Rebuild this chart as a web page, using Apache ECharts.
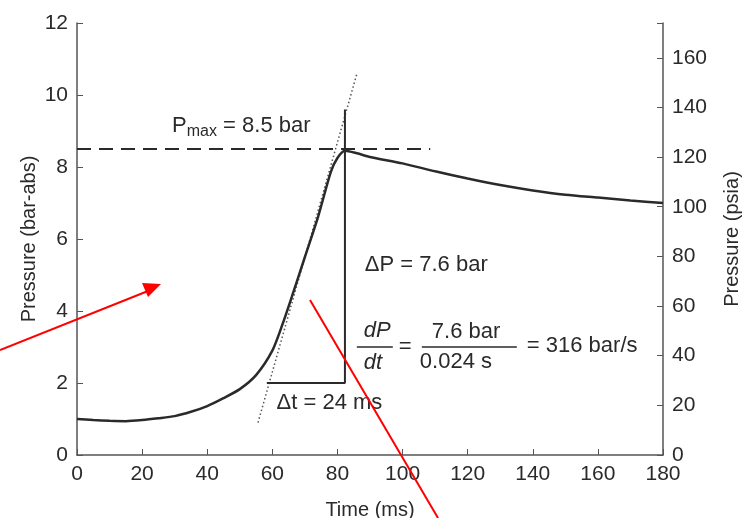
<!doctype html>
<html>
<head>
<meta charset="UTF-8">
<title>Pressure vs time</title>
<script src="https://cdn.jsdelivr.net/npm/echarts@6/dist/echarts.min.js"></script>
<style>
  html, body { margin: 0; padding: 0; background: #fff; }
  #main { width: 745px; height: 518px; }
</style>
</head>
<body>
<div id="main"></div>
<script>
// pressure curve (time ms, pressure bar-abs)
var times     = [0, 5, 10, 15, 20, 25, 30, 35, 40, 45, 50, 55, 60, 63, 66, 70, 74, 78, 80, 82.3, 86, 90, 100, 110, 120, 130, 140, 150, 160, 170, 180];
var pressures = [1.0, 0.97, 0.95, 0.94, 0.97, 1.02, 1.08, 1.2, 1.36, 1.58, 1.83, 2.22, 2.9, 3.6, 4.4, 5.5, 6.6, 7.87, 8.25, 8.45, 8.38, 8.28, 8.1, 7.88, 7.68, 7.5, 7.35, 7.23, 7.15, 7.07, 7.0];

// construction lines
var pmaxLine  = [[0, 8.5], [108.5, 8.5]];
var tangent   = [[55.6, 0.9], [86, 10.6]];
var deltaBox  = [[58.3, 2], [82.3, 2], [82.3, 9.6]];

var xTicks = { min: 0, max: 180, interval: 20 };
var barTicks = { min: 0, max: 12, interval: 2 };
var psiTicks = { min: 0, max: 174, interval: 20 };

var curve = times.map(function (t, i) { return [t, pressures[i]]; });

var ink = '#2a2a2a';
var font = 'Liberation Sans, Arial, sans-serif';
var fs = 21;
var afs = 22;

var myChart = echarts.init(document.getElementById('main'));

var option = {
    animation: false,
    backgroundColor: '#fff',
    textStyle: { fontFamily: font },
    grid: { left: 77, right: 82, top: 23, bottom: 63, containLabel: false, outerBoundsMode: 'none' },
    xAxis: {
        type: 'value',
        min: xTicks.min, max: xTicks.max, interval: xTicks.interval,
        name: 'Time (ms)',
        nameLocation: 'middle',
        nameGap: 45,
        nameMoveOverlap: false,
        nameTextStyle: { color: ink, fontSize: 20, fontFamily: font },
        axisLine: { lineStyle: { color: '#555', width: 1.5 } },
        axisTick: { inside: true, length: 6, lineStyle: { color: '#555' } },
        axisLabel: { color: ink, fontSize: fs, margin: 9, fontFamily: font },
        splitLine: { show: false }
    },
    yAxis: [{
        type: 'value',
        position: 'left',
        min: barTicks.min, max: barTicks.max, interval: barTicks.interval,
        name: 'Pressure (bar-abs)',
        nameLocation: 'middle',
        nameRotate: 90,
        nameGap: 38,
        nameMoveOverlap: false,
        nameTextStyle: { color: ink, fontSize: 20, fontFamily: font },
        axisLine: { show: true, lineStyle: { color: '#555', width: 1.5 } },
        axisTick: { show: true, inside: true, length: 6, lineStyle: { color: '#555' } },
        axisLabel: { color: ink, fontSize: fs, margin: 9, fontFamily: font },
        splitLine: { show: false }
    }, {
        type: 'value',
        position: 'right',
        min: psiTicks.min, max: psiTicks.max, interval: psiTicks.interval,
        name: 'Pressure (psia)',
        nameLocation: 'middle',
        nameRotate: 90,
        nameGap: 59,
        nameMoveOverlap: false,
        nameTextStyle: { color: ink, fontSize: 20, fontFamily: font },
        axisLine: { show: true, lineStyle: { color: '#555', width: 1.5 } },
        axisTick: { show: true, inside: true, length: 6, lineStyle: { color: '#555' } },
        axisLabel: {
            color: ink, fontSize: fs, margin: 9, fontFamily: font,
            formatter: function (v) { return v % 20 === 0 ? String(v) : ''; }
        },
        splitLine: { show: false }
    }],
    series: [{
        name: 'pressure',
        type: 'line',
        data: curve,
        smooth: 0.25,
        symbol: 'none',
        lineStyle: { color: ink, width: 2.5 },
        z: 5
    }, {
        name: 'pmax',
        type: 'line',
        data: pmaxLine,
        symbol: 'none',
        lineStyle: { color: ink, width: 2, type: [14, 8] }
    }, {
        name: 'tangent',
        type: 'line',
        data: tangent,
        symbol: 'none',
        lineStyle: { color: '#555', width: 1.5, type: [1.5, 2.5] }
    }, {
        name: 'delta',
        type: 'line',
        data: deltaBox,
        symbol: 'none',
        lineStyle: { color: ink, width: 2 }
    }]
};
myChart.setOption(option);

// annotations placed from data coordinates
function px(t, p) { return myChart.convertToPixel({ gridIndex: 0 }, [t, p]); }
var pm = px(29.2, 9.14);
var dp = px(88.4, 5.28);
var fr = px(87.8, 3.0);
var dt = px(61.3, 1.44);
var txt = { fill: ink, fontSize: afs, fontFamily: font };

function text(x, y, s, extra) {
    var st = Object.assign({ text: s, x: x, y: y, verticalAlign: 'middle' }, txt, extra || {});
    return { type: 'text', style: st, z: 10 };
}
function hline(x1, x2, y) {
    return { type: 'line', shape: { x1: x1, y1: y, x2: x2, y2: y }, style: { stroke: ink, lineWidth: 1.3 }, z: 10 };
}

myChart.setOption({
    graphic: [
        {
            type: 'text', z: 10,
            style: {
                x: pm[0], y: pm[1], verticalAlign: 'middle',
                text: 'P{s|max} = 8.5 bar',
                fill: ink, fontSize: afs, fontFamily: font,
                rich: { s: { fontSize: 16, padding: [11, 0, 0, 0], fill: ink, fontFamily: font } }
            }
        },
        text(dp[0], dp[1], '\u0394P = 7.6 bar'),
        text(fr[0] + 1, fr[1] - 16, 'dP', { fontStyle: 'italic' }),
        hline(fr[0] - 6, fr[0] + 30, fr[1]),
        text(fr[0] + 1, fr[1] + 16, 'dt', { fontStyle: 'italic' }),
        text(fr[0] + 36, fr[1], '='),
        text(fr[0] + 69, fr[1] - 15, '7.6 bar'),
        hline(fr[0] + 59, fr[0] + 154, fr[1]),
        text(fr[0] + 57, fr[1] + 15, '0.024 s'),
        text(fr[0] + 164, fr[1] - 1, '= 316 bar/s'),
        text(dt[0], dt[1], '\u0394t = 24 ms'),
        // red overlay arrows
        { type: 'line', shape: { x1: 0, y1: 350, x2: 148, y2: 291 }, style: { stroke: '#f00', lineWidth: 2 }, z: 20 },
        { type: 'polygon', shape: { points: [[161, 284], [148, 297], [142, 283]] }, style: { fill: '#f00' }, z: 20 },
        { type: 'line', shape: { x1: 310, y1: 300, x2: 438, y2: 518 }, style: { stroke: '#f00', lineWidth: 2 }, z: 20 }
    ]
});
</script>
</body>
</html>
